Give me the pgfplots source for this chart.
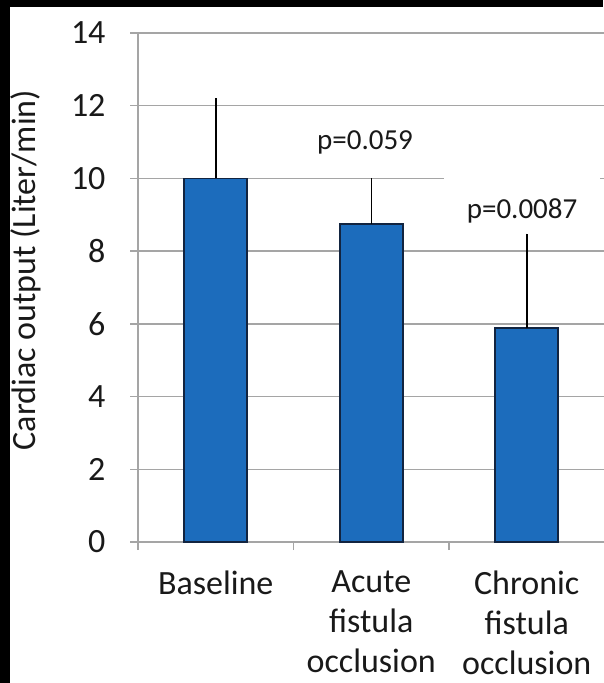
\documentclass[border=0pt]{standalone}
\usepackage{pgfplots}
\pgfplotsset{compat=1.18}
\usepackage{fontspec}
\setmainfont{Carlito}
\definecolor{barblue}{RGB}{28,108,188}
\definecolor{baredge}{RGB}{18,36,64}
\definecolor{gridgray}{RGB}{165,165,165}
\definecolor{txt}{RGB}{25,25,25}
\pgfplotstableread{
x y e
0 10.00 2.20
1 8.75 1.25
2 5.88 2.60
}\cardiac
\begin{document}
\begin{tikzpicture}
\begin{axis}[
  at={(138pt,-542pt)}, anchor=south west,
  scale only axis, width=466.5pt, height=509pt,
  xmin=-0.5, xmax=2.5, ymin=0, ymax=14,
  axis lines=left,
  axis line style={-, gridgray, line width=1.5pt},
  ytick={0,2,...,14},
  ymajorgrids, grid style={gridgray, line width=1.5pt},
  xtick={0,1,2},
  xticklabels={Baseline, Acute\\fistula\\occlusion, Chronic\\fistula\\occlusion},
  minor xtick={-0.5,0.5,1.5,2.5},
  every major x tick/.append style={draw=none},
  tick align=outside,
  major tick length=8pt, minor tick length=8pt,
  tick style={gridgray, line width=1.5pt},
  /pgf/number format/assume math mode=true,
  ticklabel style={font=\fontsize{34}{40}\selectfont, text=txt},
  xticklabel style={align=center, yshift=-17pt},
  yticklabel style={xshift=-21pt},
  clip=false,
]
\addplot[ybar, bar width=63pt, fill=barblue, draw=baredge, line width=1.8pt,
  error bars/.cd, y dir=plus, y explicit, error mark=none,
  error bar style={black, line width=1.5pt}]
  table[x=x, y=y, y error=e]{\cardiac};
\node[font=\fontsize{29}{34}\selectfont, text=txt] at (axis cs:0.96,11.0) {p=0.059};
\node[font=\fontsize{29}{34}\selectfont, text=txt, fill=white, anchor=base,
  text height=40pt, text depth=0pt, minimum width=156pt, inner ysep=2pt]
  at (axis cs:1.97,8.91) {p=0.0087};
\end{axis}
\node[rotate=90, font=\fontsize{34}{40}\selectfont, text=txt] at (26pt,-270pt) {Cardiac output (Liter/min)};
\fill[black] (0,0) rectangle (10pt,-683pt);
\fill[black] (0,0) rectangle (603pt,-7pt);
\pgfresetboundingbox
\useasboundingbox (0,0) rectangle (603pt,-683pt);
\end{tikzpicture}
\end{document}
